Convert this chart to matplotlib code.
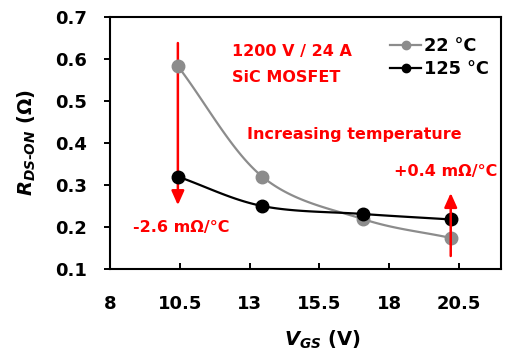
import numpy as np
import matplotlib
matplotlib.use("Agg")
import matplotlib.pyplot as plt

plt.rcParams['font.family'] = ['DejaVu Sans']
plt.rcParams['font.weight'] = 'bold'
plt.rcParams['mathtext.fontset'] = 'custom'
plt.rcParams['mathtext.it'] = 'DejaVu Sans:italic:bold'
plt.rcParams['mathtext.rm'] = 'DejaVu Sans:bold'

vgs = [10.43, 13.45, 17.05, 20.2]
r_22 = [0.583, 0.320, 0.219, 0.174]
r_125 = [0.320, 0.250, 0.231, 0.218]
series_labels = ["22 °C", "125 °C"]
x_ticks = [8, 10.5, 13, 15.5, 18, 20.5]
y_ticks = [0.1, 0.2, 0.3, 0.4, 0.5, 0.6, 0.7]


def smooth(x, y, n=40):
    # Catmull-Rom like Excel's smoothed line
    x = np.asarray(x, float)
    y = np.asarray(y, float)
    px = np.concatenate([[2 * x[0] - x[1]], x, [2 * x[-1] - x[-2]]])
    py = np.concatenate([[2 * y[0] - y[1]], y, [2 * y[-1] - y[-2]]])
    xs, ys = [], []
    t = np.linspace(0, 1, n)
    for i in range(1, len(px) - 2):
        for p, out in ((px, xs), (py, ys)):
            p0, p1, p2, p3 = p[i - 1], p[i], p[i + 1], p[i + 2]
            out.extend(0.5 * (2 * p1 + (-p0 + p2) * t
                              + (2 * p0 - 5 * p1 + 4 * p2 - p3) * t ** 2
                              + (-p0 + 3 * p1 - 3 * p2 + p3) * t ** 3))
    return xs, ys


fig = plt.figure(figsize=(5.07, 3.56), dpi=100)
ax = fig.add_axes([110 / 507, 1 - 269 / 356, 391 / 507, 252 / 356])

gray = "#8c8c8c"
for xv, yv, c, lab, z in ((vgs, r_22, gray, series_labels[0], 3), (vgs, r_125, "black", series_labels[1], 4)):
    sx, sy = smooth(xv, yv)
    ax.plot(sx, sy, color=c, lw=1.6, zorder=z)
    ax.plot(xv, yv, 'o', color=c, ms=9, zorder=z)
    ax.plot([], [], '-o', color=c, lw=1.6, ms=6, label=lab)

red = "#ff0000"
astyle = "-|>,head_width=0.38,head_length=0.85"
ax.annotate("", xy=(vgs[0], 0.252), xytext=(vgs[0], 0.638),
            arrowprops=dict(arrowstyle=astyle, color=red, lw=1.8, shrinkA=0, shrinkB=0), zorder=2)
ax.annotate("", xy=(vgs[-1], 0.281), xytext=(vgs[-1], 0.131),
            arrowprops=dict(arrowstyle=astyle, color=red, lw=1.8, shrinkA=0, shrinkB=0), zorder=5)

fs = 11.5
ax.text(12.36, 0.617, "1200 V / 24 A", color=red, fontsize=fs, va='center')
ax.text(12.36, 0.555, "SiC MOSFET", color=red, fontsize=fs, va='center')
ax.text(16.75, 0.421, "Increasing temperature", color=red, fontsize=fs, va='center', ha='center')
ax.text(21.86, 0.331, "+0.4 m\u03a9/°C", color=red, fontsize=fs, va='center', ha='right')
ax.text(8.82, 0.198, "-2.6 m\u03a9/°C", color=red, fontsize=fs, va='center')

ax.set_xlim(8, 22)
ax.set_ylim(0.1, 0.7)
ax.set_xticks(x_ticks)
ax.set_xticklabels([str(v) for v in x_ticks])
ax.set_yticks(y_ticks)
ax.set_yticklabels([f"{v:.1f}" for v in y_ticks])
ax.tick_params(labelsize=13, width=1.4, length=4.5)
ax.tick_params(axis='x', direction='in', pad=19)
ax.tick_params(axis='y', direction='out', pad=12)
for s in ax.spines.values():
    s.set_linewidth(1.5)

ax.set_xlabel(r"$V_{GS}$ (V)", fontsize=14, fontweight='bold')
ax.xaxis.set_label_coords(0.542, -0.235)
ax.set_ylabel(r"$R_{DS\text{-}ON}$ ($\Omega$)", fontsize=14, fontweight='bold')
ax.yaxis.set_label_coords(-0.185, 0.5)

ax.legend(loc='upper left', frameon=False, fontsize=12.8, handlelength=1.75,
          handletextpad=0.15, borderaxespad=0, labelspacing=0.3,
          bbox_to_anchor=((383 - 110) / 391, (269 - 30) / 252))

fig.savefig("out.png", dpi=100)
